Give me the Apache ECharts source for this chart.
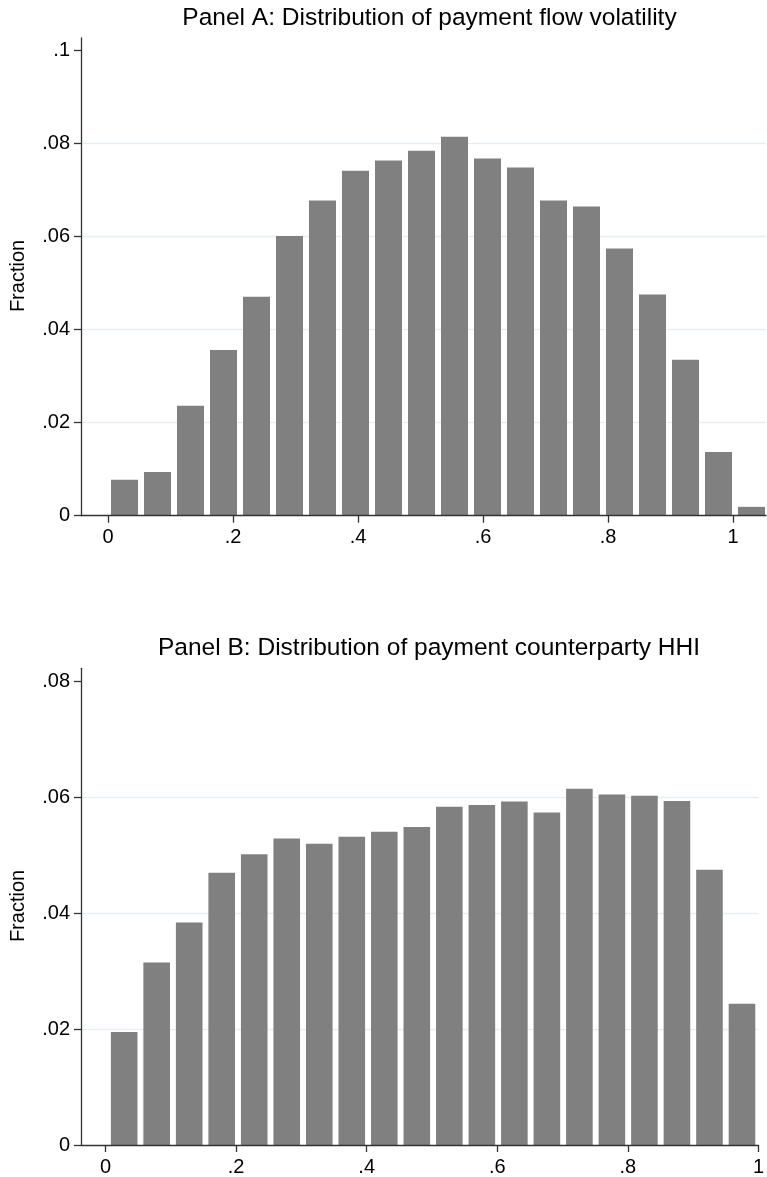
<!DOCTYPE html>
<html>
<head>
<meta charset="utf-8">
<script src="https://cdn.jsdelivr.net/npm/echarts@6/dist/echarts.min.js"></script>
<style>
html,body{margin:0;padding:0;background:#fff;}
#chart{width:767px;height:1177px;}
</style>
</head>
<body>
<div id="chart"></div>
<script>
// Panel A: bin centers (x) and fractions
var binCentersA = [0.0264,0.0792,0.1320,0.1848,0.2376,0.2904,0.3432,0.3960,0.4488,0.5016,
                   0.5544,0.6072,0.6600,0.7128,0.7656,0.8184,0.8712,0.9240,0.9768,1.0296];
var fractionA = [0.0077,0.0094,0.0236,0.0356,0.0470,0.0601,0.0677,0.0741,0.0763,0.0784,
                 0.0814,0.0767,0.0748,0.0677,0.0664,0.0574,0.0475,0.0335,0.0137,0.0019];
// Panel B
var binCentersB = [0.0286,0.0784,0.1282,0.1780,0.2278,0.2776,0.3274,0.3772,0.4270,0.4768,
                   0.5266,0.5764,0.6262,0.6760,0.7258,0.7756,0.8254,0.8752,0.9250,0.9748];
var fractionB = [0.0195,0.0315,0.0384,0.0470,0.0502,0.0529,0.0520,0.0532,0.0541,0.0549,
                 0.0584,0.0587,0.0593,0.0574,0.0615,0.0605,0.0603,0.0594,0.0475,0.0244];
// tick labels
var xTicks = [0,0.2,0.4,0.6,0.8,1];
var yTicksA = [0,0.02,0.04,0.06,0.08,0.1];
var yTicksB = [0,0.02,0.04,0.06,0.08];
var gridLinesA = [0.02,0.04,0.06,0.08];
var gridLinesB = [0.02,0.04,0.06];
var titleA = 'Panel A: Distribution of payment flow volatility';
var titleB = 'Panel B: Distribution of payment counterparty HHI';
var yName = 'Fraction';

var binWidthA = 0.0528, binWidthB = 0.0498, fillRatio = 27/33;
var FONT = '"Liberation Sans", Arial, Helvetica, sans-serif';
var BAR = '#808080', AXIS = '#333333', GRIDC = '#e6eef1';

function fmt(v){ return String(v).replace(/^0\./,'.'); }
function pairs(xs, ys){ return xs.map(function(x,i){ return [x, ys[i]]; }); }
function renderer(bw){
  return function(params, api){
    var x = api.value(0), y = api.value(1);
    var p0 = api.coord([x - bw/2, y]);
    var p1 = api.coord([x + bw/2, 0]);
    return {type:'rect', shape:{x:p0[0], y:p0[1], width:p1[0]-p0[0], height:p1[1]-p0[1]},
            style:{fill:BAR}};
  };
}
function xAxis(idx, min, max){
  return {type:'value', gridIndex:idx, min:min, max:max, z:10,
    axisLine:{show:true, onZero:false, lineStyle:{color:AXIS, width:1.3}},
    axisTick:{show:true, inside:false, length:7, customValues:xTicks, lineStyle:{color:AXIS, width:1.3}},
    axisLabel:{customValues:xTicks, formatter:fmt, margin:12, color:'#000', fontSize:20, fontFamily:FONT},
    splitLine:{show:false}};
}
function yAxis(idx, max, ticks){
  return {type:'value', gridIndex:idx, min:0, max:max, z:10,
    axisLine:{show:true, onZero:false, lineStyle:{color:AXIS, width:1.3}},
    axisTick:{show:true, inside:false, length:7, customValues:ticks, lineStyle:{color:AXIS, width:1.3}},
    axisLabel:{customValues:ticks, formatter:fmt, margin:11, color:'#000', fontSize:20, fontFamily:FONT},
    splitLine:{show:false}};
}
function gridSeries(idx, vals){
  return {type:'line', xAxisIndex:idx, yAxisIndex:idx, data:[], silent:true, z:0,
    markLine:{silent:true, z:0, symbol:['none','none'], label:{show:false},
      lineStyle:{color:GRIDC, width:1.3, type:'solid'},
      emphasis:{disabled:true},
      data: vals.map(function(v){ return {yAxis:v}; })}};
}

var chart = echarts.init(document.getElementById('chart'), null, {renderer:'canvas'});
chart.setOption({
  animation:false,
  backgroundColor:'#fff',
  grid:[
    {left:81, top:38, width:685, height:477.7},
    {left:81, top:668.3, width:683, height:477.4}
  ],
  xAxis:[xAxis(0,-0.0432,1.0528), xAxis(1,-0.0375,1.0)],
  yAxis:[yAxis(0,0.1026,yTicksA), yAxis(1,0.0823,yTicksB)],
  graphic:[
    {type:'text', x:429.5, y:18.7, style:{text:titleA, textAlign:'center', textVerticalAlign:'middle', fill:'#000', fontSize:24.5, fontFamily:FONT}},
    {type:'text', x:429, y:648, style:{text:titleB, textAlign:'center', textVerticalAlign:'middle', fill:'#000', fontSize:24.5, fontFamily:FONT}},
    {type:'text', x:18, y:276, rotation:Math.PI/2, style:{text:yName, textAlign:'center', textVerticalAlign:'middle', fill:'#000', fontSize:20, fontFamily:FONT}},
    {type:'text', x:18, y:906, rotation:Math.PI/2, style:{text:yName, textAlign:'center', textVerticalAlign:'middle', fill:'#000', fontSize:20, fontFamily:FONT}}
  ],
  series:[
    gridSeries(0, gridLinesA),
    gridSeries(1, gridLinesB),
    {type:'custom', xAxisIndex:0, yAxisIndex:0, z:3, renderItem:renderer(binWidthA*fillRatio),
     data:pairs(binCentersA, fractionA), encode:{x:0, y:1}},
    {type:'custom', xAxisIndex:1, yAxisIndex:1, z:3, renderItem:renderer(binWidthB*fillRatio),
     data:pairs(binCentersB, fractionB), encode:{x:0, y:1}}
  ]
});
</script>
</body>
</html>
